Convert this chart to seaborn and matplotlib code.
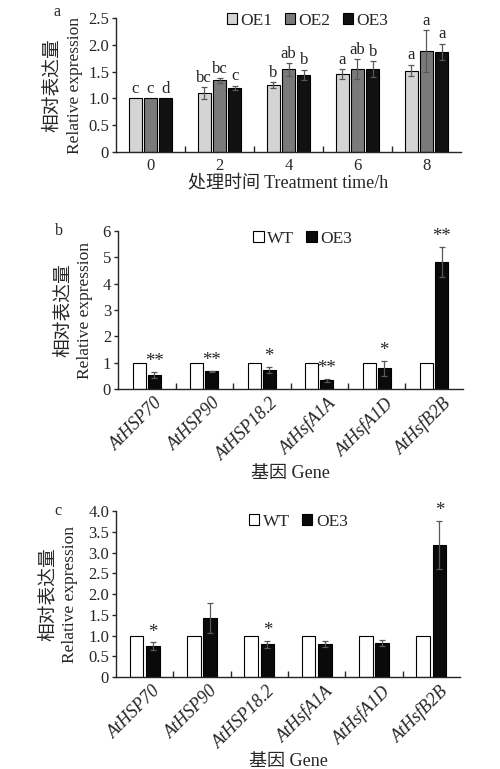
import numpy as np
import pandas as pd
import seaborn as sns
import matplotlib.pyplot as plt
import matplotlib.transforms as mtransforms
from matplotlib.patches import Patch

# panel a: expression over treatment time
times = ['0', '2', '4', '6', '8']
lines_a = ['OE1', 'OE2', 'OE3']
oe1_mean = [1.00, 1.10, 1.25, 1.46, 1.52]
oe1_err = [0.00, 0.11, 0.05, 0.09, 0.11]
oe1_sig = ['c', 'bc', 'b', 'a', 'a']
oe2_mean = [1.00, 1.335, 1.54, 1.55, 1.885]
oe2_err = [0.00, 0.045, 0.12, 0.18, 0.39]
oe2_sig = ['c', 'bc', 'ab', 'ab', 'a']
oe3_mean = [1.00, 1.20, 1.435, 1.55, 1.87]
oe3_err = [0.00, 0.04, 0.10, 0.15, 0.15]
oe3_sig = ['d', 'c', 'b', 'b', 'a']

# panels b and c: genes, WT vs OE3
genes = ['AtHSP70', 'AtHSP90', 'AtHSP18.2', 'AtHsfA1A', 'AtHsfA1D', 'AtHsfB2B']
lines_bc = ['WT', 'OE3']
wt_mean = [1, 1, 1, 1, 1, 1]
b_oe3_mean = [0.54, 0.67, 0.72, 0.33, 0.78, 4.83]
b_oe3_err = [0.12, 0.02, 0.12, 0.07, 0.29, 0.57]
b_oe3_sig = ['**', '**', '*', '**', '*', '**']
c_oe3_mean = [0.75, 1.42, 0.79, 0.80, 0.82, 3.18]
c_oe3_err = [0.09, 0.37, 0.08, 0.08, 0.08, 0.58]
c_oe3_sig = ['*', '', '*', '', '', '*']

sns.set_theme(style='ticks')
plt.rcParams['font.family'] = ['Liberation Serif', 'Noto Sans CJK SC']
plt.rcParams['font.size'] = 11
plt.rcParams['axes.linewidth'] = 1.0


def long_frame(cats, names, means, errs, sigs):
    rows = []
    for name, m, e, s in zip(names, means, errs, sigs):
        for c, mv, ev, sv in zip(cats, m, e, s):
            rows.append({'cat': c, 'line': name, 'mean': mv, 'err': ev, 'sig': sv})
    return pd.DataFrame(rows)


def draw_panel(ax, df, cats, names, palette, ymax, yticks, yticklabels,
               width, xlabel, italic, tag, tag_y, legend_anchor, ylab_x):
    sns.barplot(data=df, x='cat', y='mean', hue='line', order=cats,
                hue_order=names, palette=palette, width=width, gap=0.15,
                edgecolor='black', linewidth=0.8, errorbar=None, ax=ax,
                legend=False)
    for name, cont in zip(names, ax.containers):
        sub = df[df['line'] == name].set_index('cat').loc[cats]
        for bar, (_, r) in zip(cont, sub.iterrows()):
            xc = bar.get_x() + bar.get_width() / 2
            top = bar.get_height()
            if r['err'] > 0:
                ax.errorbar(xc, top, yerr=r['err'], fmt='none', ecolor='#585858',
                            elinewidth=0.9, capsize=2, capthick=0.9)
            if r['sig']:
                star = '*' in r['sig']
                ax.text(xc, top + r['err'] + ymax * 0.01, r['sig'],
                        ha='center', va='bottom', fontsize=13.5 if star else 12)

    ax.set_ylim(0, ymax)
    ax.set_yticks(yticks)
    ax.set_yticklabels(yticklabels)
    ax.set_xlim(-0.5, len(cats) - 0.5)
    ax.set_xticks(np.arange(len(cats)))
    ax.set_xticks(np.arange(0.5, len(cats) - 0.5), minor=True)
    ax.tick_params(axis='x', which='major', length=0, pad=4)
    ax.tick_params(axis='x', which='minor', direction='in', length=4, width=1)
    ax.tick_params(axis='y', direction='out', length=3, width=1, pad=2)
    ax.tick_params(labelsize=12)
    sns.despine(ax=ax)
    ax.set_ylabel('')
    # two-line y label: Chinese line on the left, English on the right
    ax.text(ylab_x[0], 0.5, '相对表达量', transform=ax.transAxes, rotation=90,
            ha='center', va='center', fontsize=13.5)
    ax.text(ylab_x[1], 0.5, 'Relative expression', transform=ax.transAxes,
            rotation=90, ha='center', va='center', fontsize=12.5)
    ax.set_xlabel(xlabel, fontsize=13, labelpad=1)
    if italic:
        offset = mtransforms.ScaledTranslation(5.5 / 72, 0, ax.figure.dpi_scale_trans)
        for lab in ax.get_xticklabels():
            lab.set_rotation(45)
            lab.set_ha('right')
            lab.set_va('top')
            lab.set_rotation_mode('anchor')
            lab.set_style('italic')
            lab.set_fontsize(13)
            lab.set_transform(lab.get_transform() + offset)
    ax.text(-0.17, tag_y, tag, transform=ax.transAxes, fontsize=11.5,
            ha='center', va='center')
    handles = [Patch(facecolor=palette[n], edgecolor='black', linewidth=0.8, label=n)
               for n in names]
    ax.legend(handles=handles, ncol=len(names), frameon=False, loc='center',
              bbox_to_anchor=legend_anchor, handlelength=0.6, handleheight=0.6,
              handletextpad=0.2, columnspacing=0.7, fontsize=12.5,
              borderaxespad=0)


fig = plt.figure(figsize=(5.0, 7.69), dpi=100)
ax_a = fig.add_axes([0.232, 0.8023, 0.69, 0.1743])
ax_b = fig.add_axes([0.236, 0.4941, 0.69, 0.2055])
ax_c = fig.add_axes([0.232, 0.1196, 0.688, 0.2159])

df_a = long_frame(times, lines_a, [oe1_mean, oe2_mean, oe3_mean],
                  [oe1_err, oe2_err, oe3_err], [oe1_sig, oe2_sig, oe3_sig])
draw_panel(ax_a, df_a, times, lines_a,
           {'OE1': '#d4d4d4', 'OE2': '#7a7a7a', 'OE3': '#111111'},
           2.5, [0, 0.5, 1.0, 1.5, 2.0, 2.5], ['0', '0.5', '1.0', '1.5', '2.0', '2.5'],
           0.66, '处理时间 Treatment time/h', False, 'a', 1.045, (0.555, 0.98),
           (-0.186, -0.119))

palette_bc = {'WT': '#ffffff', 'OE3': '#0a0a0a'}
df_b = long_frame(genes, lines_bc, [wt_mean, b_oe3_mean],
                  [[0] * 6, b_oe3_err], [[''] * 6, b_oe3_sig])
draw_panel(ax_b, df_b, genes, lines_bc, palette_bc,
           6, [0, 1, 2, 3, 4, 5, 6], ['0', '1', '2', '3', '4', '5', '6'],
           0.52, '基因 Gene', True, 'b', 1.0, (0.535, 0.95), (-0.159, -0.096))

df_c = long_frame(genes, lines_bc, [wt_mean, c_oe3_mean],
                  [[0] * 6, c_oe3_err], [[''] * 6, c_oe3_sig])
draw_panel(ax_c, df_c, genes, lines_bc, palette_bc,
           4.0, [0, 0.5, 1.0, 1.5, 2.0, 2.5, 3.0, 3.5, 4.0],
           ['0', '0.5', '1.0', '1.5', '2.0', '2.5', '3.0', '3.5', '4.0'],
           0.56, '基因 Gene', True, 'c', 1.0, (0.53, 0.935), (-0.198, -0.134))

fig.savefig('out.png', dpi=100)
